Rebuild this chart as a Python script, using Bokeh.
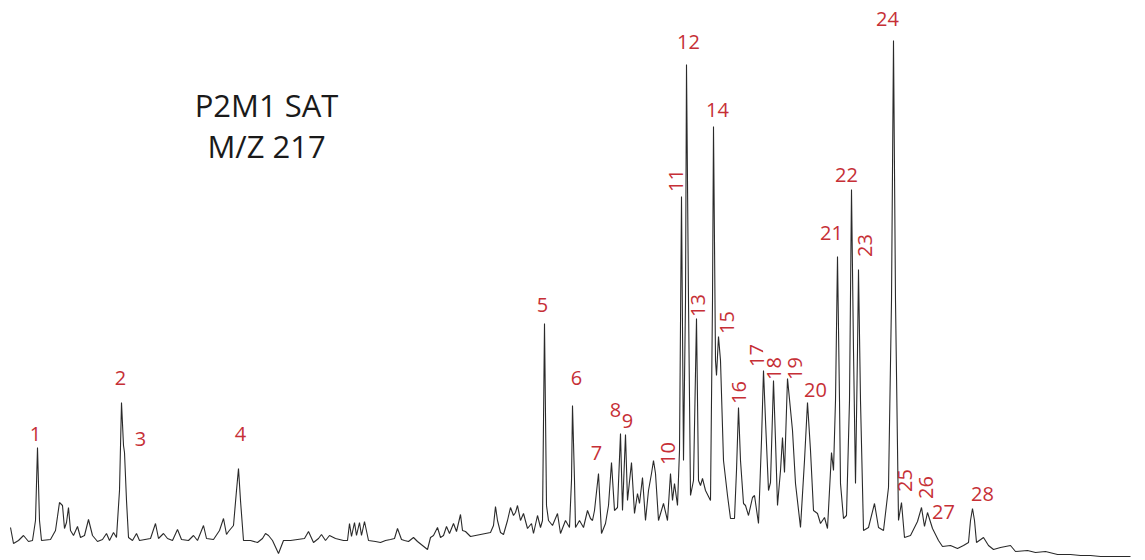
import math
from bokeh.plotting import figure
from bokeh.models import Range1d
from bokeh.core.properties import value
from bokeh.embed import file_html
from bokeh.resources import INLINE

# Retention position and abundance
rt = [10, 13, 18, 23, 28, 32, 35, 37, 39, 41, 50, 55, 59, 62, 64, 66, 68, 70, 73, 77,
      80, 84, 88, 92, 97, 102, 106, 109, 113, 116, 119, 121, 123, 124, 126, 128, 132, 136, 139, 150,
      155, 158, 163, 167, 172, 177, 181, 188, 193, 197, 203, 206, 213, 219, 223, 226, 228, 233, 236, 238,
      240, 243, 250, 257, 262, 265, 268, 272, 278, 283, 290, 297, 304, 308, 313, 318, 321, 325, 329, 335,
      343, 347, 349, 351, 354, 356, 359, 361, 364, 368, 375, 380, 385, 390, 394, 397, 401, 404, 408, 413,
      417, 422, 427, 430, 433, 437, 440, 443, 446, 449, 453, 456, 460, 462, 465, 470, 475, 480, 485, 490,
      493, 495, 497, 500, 503, 507, 510, 513, 515, 517, 520, 523, 527, 531, 533, 537, 540, 542, 544, 546,
      548, 552, 557, 560, 565, 569, 571, 572, 574, 575, 579, 583, 587, 590, 592, 594, 598, 601, 605, 608,
      611, 614, 617, 620, 622, 625, 627, 631, 634, 637, 639, 642, 645, 648, 651, 653, 655, 658, 663, 667,
      670, 672, 674, 677, 679, 681, 683, 685, 686, 688, 690, 693, 696, 698, 700, 702, 705, 710, 712, 713,
      715, 716, 718, 720, 723, 727, 730, 734, 736, 738, 740, 743, 745, 748, 752, 754, 758, 761, 763, 765,
      768, 770, 773, 775, 777, 780, 782, 784, 787, 792, 795, 800, 804, 807, 810, 813, 817, 820, 824, 827,
      831, 833, 835, 837, 839, 840, 843, 846, 849, 851, 853, 855, 857, 858, 860, 863, 868, 874, 878, 883,
      888, 891, 893, 895, 898, 901, 904, 910, 917, 921, 924, 927, 932, 938, 942, 950, 957, 963, 968, 970,
      972, 974, 976, 983, 988, 993, 1000, 1010, 1015, 1027, 1035, 1045, 1057, 1070, 1080, 1090, 1100, 1115, 1130]
abundance = [33, 17, 20, 25, 19, 20, 40, 113, 40, 20, 21, 30, 58, 55, 32, 38, 53, 30, 25, 34,
             23, 25, 41, 25, 19, 21, 27, 20, 28, 23, 70, 158, 115, 108, 60, 23, 20, 27, 20, 22,
             37, 22, 27, 22, 20, 31, 21, 20, 25, 20, 35, 22, 21, 30, 42, 26, 29, 35, 70, 92,
             60, 20, 20, 18, 22, 27, 25, 20, 7, 20, 20, 21, 22, 29, 18, 22, 26, 20, 25, 22,
             20, 20, 37, 24, 38, 25, 38, 25, 39, 20, 19, 18, 20, 21, 22, 32, 21, 20, 19, 23,
             19, 15, 11, 23, 25, 33, 23, 25, 34, 27, 37, 29, 46, 30, 29, 24, 25, 26, 27, 28,
             35, 54, 40, 28, 26, 40, 53, 45, 48, 55, 40, 47, 32, 37, 27, 45, 33, 40, 237, 55,
             40, 35, 47, 27, 40, 33, 80, 155, 80, 33, 40, 33, 50, 42, 40, 50, 87, 27, 37, 55,
             98, 50, 53, 127, 50, 126, 60, 98, 47, 67, 57, 83, 40, 70, 87, 100, 87, 40, 57, 40,
             87, 60, 77, 55, 110, 364, 100, 260, 496, 260, 65, 80, 242, 80, 75, 82, 70, 60, 260, 434,
             200, 185, 224, 200, 100, 65, 42, 42, 90, 153, 100, 57, 55, 45, 63, 65, 37, 120, 190, 140,
             70, 78, 180, 120, 55, 90, 123, 88, 182, 130, 77, 33, 100, 158, 110, 50, 47, 37, 43, 32,
             108, 90, 160, 304, 160, 77, 42, 45, 160, 371, 210, 77, 210, 291, 160, 30, 33, 57, 33, 30,
             73, 260, 520, 260, 40, 58, 23, 25, 39, 53, 34, 48, 32, 20, 14, 15, 12, 15, 18, 40,
             52, 40, 18, 23, 15, 11, 13, 15, 9, 10, 8, 9, 6, 6, 5, 5, 4, 4, 4]

# Peak numbers and where they are written
peak_ids = [str(i) for i in range(1, 29)]
label_rt = [35, 120, 140, 240, 542, 576, 596, 615, 627, 667, 675, 688, 697, 717, 726, 738, 756,
            773, 794, 815, 831, 846, 864, 887, 904, 925, 943, 982]
label_ab = [127, 183, 122, 127, 256, 183, 108, 151, 140, 107, 380, 519, 255, 451, 238, 168, 205,
            192, 192, 171, 328, 386, 315, 542, 80, 73, 49, 67]
label_vertical = [False, False, False, False, False, False, False, False, False, True, True, False,
                  True, False, True, True, True, True, True, False, False, False, True, False,
                  True, True, False, False]

title_lines = ["P2M1 SAT", "M/Z 217"]

p = figure(width=1145, height=560, output_backend="svg", toolbar_location=None,
           x_range=Range1d(0, 1145), y_range=Range1d(0, 560), min_border=0)
p.axis.visible = False
p.grid.visible = False
p.outline_line_color = None
p.background_fill_color = "white"
p.border_fill_color = "white"

p.line(rt, abundance, line_color="#2a2a2a", line_width=1.1)

angles = [math.pi / 2 if v else 0.0 for v in label_vertical]
p.text(x=label_rt, y=label_ab, text=peak_ids, angle=angles, text_color="#c62f36",
       text_font=value("Open Sans"), text_font_size="20px",
       text_align="center", text_baseline="middle")

p.text(x=[266, 266], y=[456, 415], text=title_lines, text_color="#1a1a1a",
       text_font=value("Open Sans"), text_font_size="31px",
       text_align="center", text_baseline="middle")

open("out.html", "w").write(file_html(p, INLINE))
